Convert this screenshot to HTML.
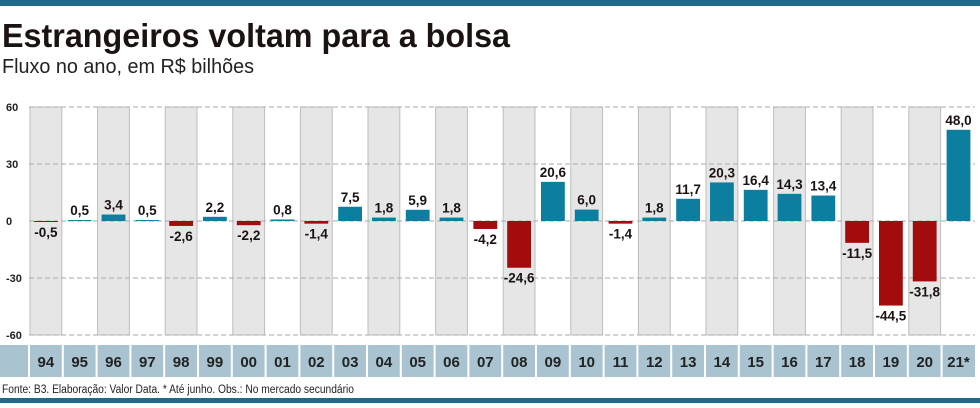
<!DOCTYPE html>
<html><head><meta charset="utf-8"><style>
body{margin:0;width:980px;height:403px;background:#fff;overflow:hidden;font-family:"Liberation Sans",sans-serif}
</style></head><body>
<svg width="980" height="403">
<rect x="0" y="0" width="980" height="6" fill="#1d6a8b"/>
<text x="2" y="47" font-size="33" font-weight="bold" fill="#1b1311" textLength="508" lengthAdjust="spacingAndGlyphs">Estrangeiros voltam para a bolsa</text>
<text x="2" y="73" font-size="20" fill="#222" textLength="252" lengthAdjust="spacingAndGlyphs">Fluxo no ano, em R$ bilhões</text>
<g id="plot"></g>
<text x="2" y="393" font-size="11.5" fill="#222" textLength="352" lengthAdjust="spacingAndGlyphs">Fonte: B3. Elaboração: Valor Data. * Até junho. Obs.: No mercado secundário</text>
<rect x="0" y="398" width="980" height="5" fill="#1d6a8b"/>
</svg>
<script>
const categories=["94","95","96","97","98","99","00","01","02","03","04","05","06","07","08","09","10","11","12","13","14","15","16","17","18","19","20","21*"];
const values=[-0.5,0.5,3.4,0.5,-2.6,2.2,-2.2,0.8,-1.4,7.5,1.8,5.9,1.8,-4.2,-24.6,20.6,6.0,-1.4,1.8,11.7,20.3,16.4,14.3,13.4,-11.5,-44.5,-31.8,48.0];
const yTicks=[60,30,0,-30,-60];
const NS="http://www.w3.org/2000/svg";
const g=document.getElementById('plot');
const x0=29,cw=33.8,yTop=107,yBot=335;
const y=v=>yTop+(60-v)*(yBot-yTop)/120;
const xc=i=>x0+i*cw;
function mk(t,a){const e=document.createElementNS(NS,t);for(const k in a)e.setAttribute(k,a[k]);g.appendChild(e);return e;}
categories.forEach((c,i)=>{
 if(i%2===0){const r=mk('rect',{x:xc(i)+1,y:yTop,width:cw-2,height:yBot-yTop,fill:'#e6e6e6',stroke:'#bdbdbd','stroke-width':1});
 
 }
});
yTicks.forEach(t=>{
 const l=mk('line',{x1:x0,x2:975,y1:y(t),y2:y(t),stroke:'#aaa','stroke-dasharray':'5,3','stroke-width':1});
 
 
 const tx=mk('text',{x:6,y:y(t)+4,'font-size':11,'font-weight':'bold',fill:'#222'});tx.textContent=String(t);
 
 
});
const ab=mk('rect',{x:0,y:345,width:975,height:32,fill:'#a9c4d0'});


categories.forEach((c,i)=>{
 const v=values[i],bx=xc(i)+5,bw=cw-10;
 const top=v>=0?y(v):y(0),h=Math.max(Math.abs(y(v)-y(0)),1);
 const b=mk('rect',{x:bx,y:top,width:bw,height:h,fill:v>=0?'#0c7ea0':'#a30c0c'});
 
 
 const lab=mk('text',{x:xc(i)+cw/2,y:v>=0?y(v)-5:y(v)+15,'font-size':13.5,'font-weight':'bold',fill:'#1b1311','text-anchor':'middle'});
 lab.textContent=v.toFixed(1).replace('.',',');
 
 
 const sep=mk('line',{x1:xc(i),x2:xc(i),y1:345,y2:377,stroke:'#fff','stroke-width':2});
 
 
 const xl=mk('text',{x:xc(i)+cw/2,y:367,'font-size':15,'font-weight':'bold',fill:'#222','text-anchor':'middle'});
 xl.textContent=c;
 
 
});
</script>
</body></html>
